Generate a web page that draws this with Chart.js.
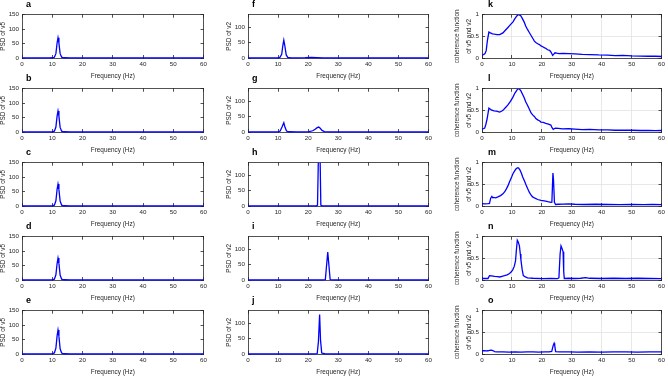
<!DOCTYPE html>
<html>
<head>
<meta charset="utf-8">
<script src="https://cdn.jsdelivr.net/npm/chart.js@4.4.0/dist/chart.umd.min.js"></script>
<style>
    body { margin: 0; background: #fff; width: 668px; height: 376px; overflow: hidden; position: relative; }
    canvas { position: absolute; }
    .panel-letter { position: absolute; font: bold 9px "Liberation Sans", Arial, sans-serif; color: #000; line-height: 10px; }
</style>
</head>
<body>
<script>
// PSD of v5 (column 1), [Hz, value]
const psdA = [[0,0.3],[5,0.3],[9,0.4],[10,0.8],[10.7,2.5],[11.2,15],[11.6,52],[11.9,70],[12.2,52],[12.6,15],[13.1,3],[13.8,0.8],[16,0.4],[20,0.3],[40,0.2],[60,0.2]];
const psdB = [[0,0.3],[6,0.3],[9,0.4],[10,0.9],[10.7,3],[11.2,17],[11.6,55],[11.9,73],[12.2,55],[12.6,16],[13.1,3],[13.8,0.8],[16,0.4],[22,0.3],[40,0.2],[60,0.2]];
const psdC = [[0,0.3],[6,0.3],[9,0.4],[10,0.9],[10.7,3],[11.2,18],[11.6,58],[11.9,76],[12.2,57],[12.6,17],[13.1,3],[13.8,0.8],[16,0.4],[22,0.3],[40,0.2],[60,0.2]];
const psdD = [[0,0.3],[6,0.3],[9,0.4],[10,0.9],[10.7,3],[11.2,18],[11.6,57],[11.9,76],[12.2,58],[12.6,17],[13.1,3],[13.8,0.8],[16,0.4],[22,0.3],[40,0.2],[60,0.2]];
const psdE = [[0,0.3],[6,0.3],[9,0.4],[10,1],[10.7,3.5],[11.2,20],[11.6,63],[11.9,83],[12.2,62],[12.6,18],[13.1,3.5],[13.8,0.9],[16,0.4],[22,0.3],[40,0.2],[60,0.2]];

// PSD of v2 (column 2)
const psdF = [[0,0.3],[8,0.3],[9.8,0.6],[10.6,2],[11.2,12],[11.6,42],[11.9,58],[12.2,42],[12.7,10],[13.2,2],[14,0.8],[16,0.5],[19,1],[21,1.8],[23,1.5],[25,0.6],[30,0.3],[60,0.2]];
const psdG = [[0,0.3],[8,0.3],[10,0.7],[10.7,3],[11.3,16],[11.9,30],[12.3,15],[12.8,3],[13.5,0.8],[16,0.4],[19,0.6],[20.3,1.5],[21.5,4],[22.3,9],[23,14],[23.5,16],[24,12],[24.6,5],[25.4,1.5],[27,0.5],[30,0.3],[60,0.2]];
const psdH = [[0,0.2],[10,0.3],[20,0.3],[22.8,0.6],[23.1,3],[23.7,320],[24.2,3],[24.6,0.5],[30,0.3],[47,0.6],[48,0.3],[60,0.2]];
const psdI = [[0,0.2],[20,0.3],[25,0.4],[25.7,1.5],[26.5,90],[27.3,1.5],[28,0.4],[40,0.3],[60,0.2]];
const psdJ = [[0,0.2],[15,0.3],[22,0.4],[23.0,1.5],[23.4,40],[23.8,128],[24.1,45],[24.5,3],[25.5,0.8],[28,0.4],[60,0.2]];

// coherence function of v5 and v2 (column 3)
const cohK = [[0,0.07],[0.5,0.08],[1,0.1],[1.4,0.17],[1.8,0.4],[2.3,0.6],[2.8,0.58],[3.5,0.56],[4.2,0.55],[5,0.54],[5.9,0.54],[7,0.58],[7.8,0.64],[8.6,0.7],[9.5,0.77],[10.3,0.83],[11,0.91],[11.4,0.95],[12,1.0],[12.5,0.995],[13,0.97],[13.5,0.91],[14.1,0.83],[14.6,0.74],[15.2,0.66],[15.8,0.59],[16.4,0.52],[17,0.45],[17.5,0.39],[18,0.36],[18.6,0.33],[19.2,0.31],[19.7,0.28],[20.3,0.26],[20.8,0.24],[21.4,0.22],[21.9,0.19],[22.4,0.18],[22.8,0.16],[23.2,0.12],[23.6,0.06],[24,0.09],[24.4,0.12],[25,0.11],[25.7,0.1],[27,0.105],[29,0.1],[31,0.095],[33.5,0.085],[36,0.08],[39,0.07],[42,0.065],[44.5,0.055],[47,0.06],[50,0.05],[53,0.045],[55.6,0.04],[58,0.04],[60,0.035]];
const cohL = [[0,0.07],[0.5,0.08],[0.9,0.09],[1.3,0.18],[1.7,0.3],[2.3,0.55],[2.7,0.53],[3.1,0.51],[4,0.49],[4.8,0.48],[5.9,0.46],[6.5,0.48],[7,0.5],[7.8,0.56],[8.6,0.62],[9.5,0.71],[10.3,0.8],[11,0.9],[11.4,0.94],[12,1.0],[12.5,0.99],[13,0.95],[13.5,0.88],[14.1,0.79],[14.6,0.7],[15.2,0.62],[15.8,0.53],[16.4,0.44],[17,0.39],[17.5,0.36],[18,0.31],[18.6,0.28],[19.2,0.26],[19.7,0.23],[20.5,0.22],[21.3,0.2],[22.2,0.18],[23,0.16],[23.4,0.1],[23.8,0.06],[24.2,0.08],[24.6,0.09],[25.5,0.085],[26.9,0.07],[29,0.075],[31,0.065],[33.5,0.056],[36,0.06],[39,0.05],[42,0.05],[44.5,0.04],[47,0.045],[50,0.04],[53,0.035],[55.6,0.035],[58,0.03],[60,0.035]];
const cohM = [[0,0.056],[1,0.05],[2,0.055],[2.5,0.06],[2.9,0.18],[3.3,0.22],[3.6,0.19],[3.9,0.2],[4.6,0.19],[5.3,0.21],[6.2,0.24],[7,0.28],[7.6,0.33],[8.1,0.39],[8.7,0.47],[9.2,0.56],[9.8,0.65],[10.3,0.74],[10.9,0.81],[11.4,0.86],[11.8,0.88],[12.2,0.88],[12.7,0.83],[13.2,0.75],[13.6,0.67],[14.2,0.58],[14.7,0.49],[15.2,0.41],[15.8,0.32],[16.3,0.26],[16.9,0.21],[17.7,0.18],[18.6,0.15],[19.7,0.13],[20.8,0.12],[22,0.1],[23,0.085],[23.35,0.09],[23.7,0.76],[23.9,0.6],[24.2,0.085],[24.6,0.035],[25.5,0.04],[27,0.045],[29,0.05],[31,0.04],[34,0.035],[38,0.04],[42,0.035],[46,0.03],[50,0.035],[54,0.03],[57,0.035],[60,0.03]];
const cohN = [[0,0.035],[1,0.035],[2,0.035],[2.5,0.1],[3.2,0.095],[4.2,0.085],[5.2,0.08],[5.9,0.07],[6.7,0.085],[7.5,0.1],[8.4,0.12],[9.2,0.15],[9.8,0.19],[10.3,0.24],[10.8,0.32],[11.2,0.44],[11.5,0.7],[11.8,0.92],[12.1,0.88],[12.5,0.79],[12.8,0.6],[13,0.47],[13.4,0.25],[13.8,0.1],[14.5,0.07],[15.2,0.05],[17,0.04],[20.2,0.03],[23,0.035],[25.2,0.03],[25.7,0.05],[26.1,0.6],[26.4,0.79],[26.8,0.72],[27.1,0.65],[27.3,0.2],[27.5,0.035],[29,0.04],[31,0.035],[33,0.04],[34.6,0.055],[36,0.04],[40,0.035],[44,0.04],[48,0.035],[52,0.04],[56,0.035],[60,0.03]];
const cohO = [[0,0.08],[0.7,0.075],[1.4,0.07],[2,0.075],[2.5,0.085],[3.1,0.09],[3.6,0.08],[4.2,0.055],[5,0.05],[7,0.05],[9,0.045],[11,0.05],[13,0.045],[15,0.05],[17,0.05],[19,0.045],[21,0.05],[22.4,0.05],[23.3,0.06],[23.8,0.2],[24.1,0.25],[24.3,0.2],[24.6,0.055],[26,0.05],[29,0.05],[32,0.045],[36,0.05],[40,0.045],[44,0.05],[48,0.05],[52,0.045],[56,0.05],[60,0.05]];

const panelLetters = [['a','b','c','d','e'], ['f','g','h','i','j'], ['k','l','m','n','o']];
const panelData = [[psdA, psdB, psdC, psdD, psdE], [psdF, psdG, psdH, psdI, psdJ], [cohK, cohL, cohM, cohN, cohO]];
const yTitles = ['PSD of v5', 'PSD of v2', ['coherence function', 'of v5 and v2']];
const yMaxes = [150, 140, 1];
const ySteps = [50, 50, 0.5];
const xTitle = 'Frequency (Hz)';

// layout
const FONT = '"Liberation Sans", Arial, sans-serif';
const AX = '#262626';
const GRID = '#e2e2e2';
const LINE = '#0000ff';
const ROW_TOP0 = 11, ROW_PITCH = 74, PLOT_H = 47, PAD_TOP = 6, XAXIS_H = 24, PAD_RIGHT = 8;
const cols = [
    { left: 0,   axisW: 22, plotW: 183, titleLH: 1.0, grid: false, letterX: 26 },
    { left: 226, axisW: 22, plotW: 182, titleLH: 1.0, grid: false, letterX: 252 },
    { left: 452, axisW: 30, plotW: 181, titleLH: 1.75, grid: true, letterX: 488 },
];

function keepSteps(step) {
    return s => { s.ticks = s.ticks.filter(t => Math.abs(t.value / step - Math.round(t.value / step)) < 1e-6); };
}

function makePanel(c, r) {
    const col = cols[c];
    const plotTop = ROW_TOP0 + ROW_PITCH * r;
    const canvas = document.createElement('canvas');
    canvas.width = col.axisW + col.plotW + PAD_RIGHT;
    canvas.height = PAD_TOP + PLOT_H + XAXIS_H;
    canvas.style.left = col.left + 'px';
    canvas.style.top = (plotTop - PAD_TOP) + 'px';
    document.body.appendChild(canvas);

    const tickFont = { size: 6.2, family: FONT };
    const titleFont = { size: 6.4, family: FONT };
    const yStep = ySteps[c];

    new Chart(canvas.getContext('2d'), {
        type: 'line',
        data: {
            datasets: [{
                data: panelData[c][r].map(p => ({ x: p[0], y: p[1] })),
                borderColor: LINE, borderWidth: 1.3, pointRadius: 0, tension: 0,
                clip: { left: 2, right: 2, top: 0, bottom: 2 },
            }]
        },
        options: {
            responsive: false, animation: false, devicePixelRatio: 1,
            layout: { padding: { top: PAD_TOP, right: PAD_RIGHT, left: 0, bottom: 0 } },
            plugins: { legend: { display: false }, tooltip: { enabled: false } },
            scales: {
                x: {
                    type: 'linear', position: 'bottom', min: 0, max: 60,
                    ticks: { stepSize: 10, font: tickFont, color: AX, padding: 6, maxRotation: 0, autoSkip: false },
                    grid: { drawOnChartArea: col.grid, color: GRID, lineWidth: 0.8, tickLength: -3, tickColor: AX },
                    border: { color: AX, width: 0.8 },
                    title: { display: true, text: xTitle, font: titleFont, color: AX, padding: { top: 0, bottom: 2 } },
                    afterFit: s => { s.height = XAXIS_H; },
                },
                x2: {
                    type: 'linear', position: 'top', min: 0, max: 60,
                    ticks: { display: false, stepSize: 10 },
                    grid: { drawOnChartArea: false, lineWidth: 0.8, tickLength: -3, tickColor: AX },
                    border: { color: AX, width: 0.8 },
                    afterFit: s => { s.height = 0; },
                },
                y: {
                    type: 'linear', position: 'left', min: 0, max: yMaxes[c],
                    ticks: { stepSize: yStep, font: tickFont, color: AX, padding: 6, callback: v => String(v) },
                    afterBuildTicks: keepSteps(yStep),
                    grid: { drawOnChartArea: col.grid, color: GRID, lineWidth: 0.8, tickLength: -3, tickColor: AX },
                    border: { color: AX, width: 0.8 },
                    title: { display: true, text: yTitles[c], font: { size: 6.4, family: FONT, lineHeight: col.titleLH }, color: AX, padding: 0 },
                    afterFit: s => { s.width = col.axisW; },
                },
                y2: {
                    type: 'linear', position: 'right', min: 0, max: yMaxes[c],
                    ticks: { display: false, stepSize: yStep },
                    afterBuildTicks: keepSteps(yStep),
                    grid: { drawOnChartArea: false, lineWidth: 0.8, tickLength: -3, tickColor: AX },
                    border: { color: AX, width: 0.8 },
                    afterFit: s => { s.width = 0; },
                },
            }
        }
    });

    const letter = document.createElement('div');
    letter.className = 'panel-letter';
    letter.textContent = panelLetters[c][r];
    letter.style.left = col.letterX + 'px';
    letter.style.top = (plotTop - 12) + 'px';
    document.body.appendChild(letter);
}

for (let c = 0; c < 3; c++) {
    for (let r = 0; r < 5; r++) makePanel(c, r);
}
</script>
</body>
</html>
